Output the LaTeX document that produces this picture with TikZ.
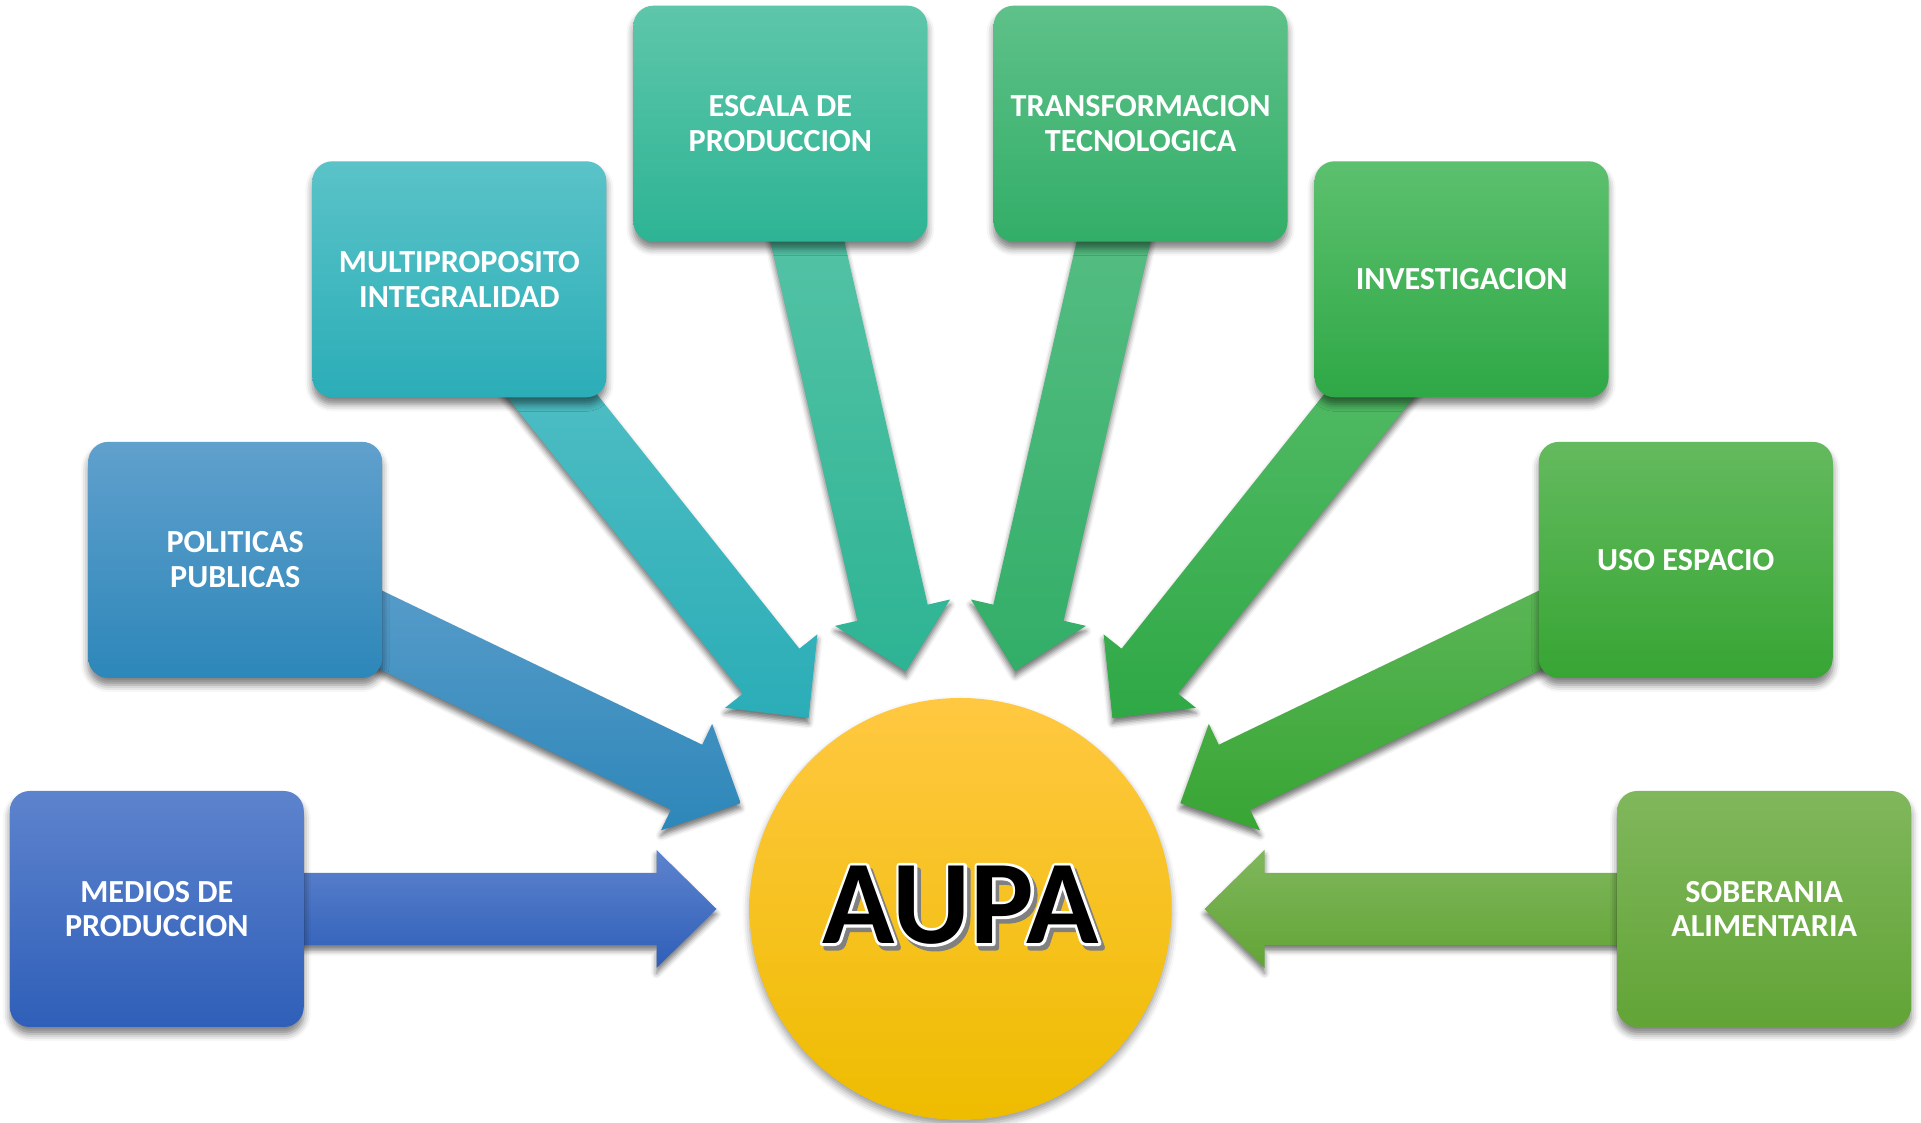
\documentclass[tikz,border=0pt]{standalone}
\usepackage{fontspec}
\setmainfont{Carlito}
\usetikzlibrary{calc,shadows.blur}

\definecolor{mediosTop}{HTML}{5D83CD}
\definecolor{mediosBot}{HTML}{2F5FB9}
\definecolor{politicasTop}{HTML}{60A0CD}
\definecolor{politicasBot}{HTML}{2D87B9}
\definecolor{multiTop}{HTML}{5AC3C8}
\definecolor{multiBot}{HTML}{2BADB7}
\definecolor{escalaTop}{HTML}{5EC6AA}
\definecolor{escalaBot}{HTML}{2DB494}
\definecolor{transfTop}{HTML}{5EC189}
\definecolor{transfBot}{HTML}{32AE68}
\definecolor{investTop}{HTML}{5CC06E}
\definecolor{investBot}{HTML}{2FA846}
\definecolor{usoTop}{HTML}{64BA5E}
\definecolor{usoBot}{HTML}{37A534}
\definecolor{soberTop}{HTML}{80B75C}
\definecolor{soberBot}{HTML}{62A436}
\definecolor{aupaTop}{HTML}{FFC841}
\definecolor{aupaBot}{HTML}{EEBC00}

% outlined glyphs: #1 stroke colour (rgb), #2 line width (bp), #3 text
\newcommand{\strokedtext}[3]{\special{pdf:literal direct #1 RG #2 w 1 j 2 Tr}#3\special{pdf:literal direct 0 Tr}}

\pgfdeclarelayer{arrows}
\pgfsetlayers{arrows,main}

\begin{document}
\begin{tikzpicture}[
  box/.style={rectangle, rounded corners=0.2cm, minimum width=2.94cm, minimum height=2.36cm,
    text=white, align=center, font=\bfseries\fontsize{9.15pt}{9.9pt}\selectfont,
    blur shadow={shadow xshift=0pt, shadow yshift=-2pt, shadow blur radius=2pt, shadow opacity=50}},
  block arrow/.style={blur shadow={shadow xshift=0pt, shadow yshift=-1.5pt, shadow blur radius=1.5pt, shadow opacity=55},
    to path={
      ($(\tikztostart)!0.36cm!90:(\tikztotarget)$)
      -- ($(\tikztotarget)!0.6cm!(\tikztostart)!0.36cm!90:(\tikztotarget)$)
      -- ($(\tikztotarget)!0.6cm!(\tikztostart)!0.59cm!90:(\tikztotarget)$)
      -- (\tikztotarget)
      -- ($(\tikztotarget)!0.6cm!(\tikztostart)!0.59cm!-90:(\tikztotarget)$)
      -- ($(\tikztotarget)!0.6cm!(\tikztostart)!0.36cm!-90:(\tikztotarget)$)
      -- ($(\tikztostart)!0.36cm!-90:(\tikztotarget)$)
      -- cycle}},
  title text/.style={font=\bfseries\fontsize{34pt}{34pt}\selectfont, inner sep=0pt}
]
\useasboundingbox (0,0) rectangle (19.21,11.23);
% Define the nodes
\node[box, top color=mediosTop, bottom color=mediosBot] (medios) at (1.568,2.14) {MEDIOS DE\\PRODUCCION};
\node[box, top color=politicasTop, bottom color=politicasBot] (politicas) at (2.352,5.631) {POLITICAS\\PUBLICAS};
\node[box, top color=multiTop, bottom color=multiBot] (multi) at (4.594,8.437) {MULTIPROPOSITO\\INTEGRALIDAD};
\node[box, top color=escalaTop, bottom color=escalaBot] (escala) at (7.804,9.993) {ESCALA DE\\PRODUCCION};
\node[box, top color=transfTop, bottom color=transfBot] (transf) at (11.406,9.993) {TRANSFORMACION\\TECNOLOGICA};
\node[box, top color=investTop, bottom color=investBot] (invest) at (14.616,8.437) {INVESTIGACION};
\node[box, top color=usoTop, bottom color=usoBot] (uso) at (16.858,5.631) {USO ESPACIO};
\node[box, top color=soberTop, bottom color=soberBot] (sober) at (17.642,2.14) {SOBERANIA\\ALIMENTARIA};
\node[circle, minimum size=4.22cm, top color=aupaTop, bottom color=aupaBot,
  blur shadow={shadow xshift=0pt, shadow yshift=-1.5pt, shadow blur radius=2pt, shadow opacity=40}] (aupa) at (9.605,2.14) {};
% Title with outline and shadow
\coordinate (word) at (9.605,2.18);
\node[title text, text=black!50] (shade) at ($(word)+(0.035,-0.045)$) {\strokedtext{0.5 0.5 0.5}{1.6}{AUPA}};
\node[title text, text=white] (halo) at (word) {\strokedtext{1 1 1}{1.6}{AUPA}};
\node[title text, text=black] (title) at (word) {AUPA};
% Arrow tips
\coordinate (medios-tip) at ($(aupa.center)!2.44cm!(medios.center)$);
\coordinate (politicas-tip) at ($(aupa.center)!2.44cm!(politicas.center)$);
\coordinate (multi-tip) at ($(aupa.center)!2.44cm!(multi.center)$);
\coordinate (escala-tip) at ($(aupa.center)!2.44cm!(escala.center)$);
\coordinate (transf-tip) at ($(aupa.center)!2.44cm!(transf.center)$);
\coordinate (invest-tip) at ($(aupa.center)!2.44cm!(invest.center)$);
\coordinate (uso-tip) at ($(aupa.center)!2.44cm!(uso.center)$);
\coordinate (sober-tip) at ($(aupa.center)!2.44cm!(sober.center)$);
% Define the edges
\begin{pgfonlayer}{arrows}
\path[block arrow, top color=mediosTop, bottom color=mediosBot] (medios.center) to (medios-tip);
\path[block arrow, top color=politicasTop, bottom color=politicasBot] (politicas.center) to (politicas-tip);
\path[block arrow, top color=multiTop, bottom color=multiBot] (multi.center) to (multi-tip);
\path[block arrow, top color=escalaTop, bottom color=escalaBot] (escala.center) to (escala-tip);
\path[block arrow, top color=transfTop, bottom color=transfBot] (transf.center) to (transf-tip);
\path[block arrow, top color=investTop, bottom color=investBot] (invest.center) to (invest-tip);
\path[block arrow, top color=usoTop, bottom color=usoBot] (uso.center) to (uso-tip);
\path[block arrow, top color=soberTop, bottom color=soberBot] (sober.center) to (sober-tip);
\end{pgfonlayer}
\end{tikzpicture}
\end{document}
